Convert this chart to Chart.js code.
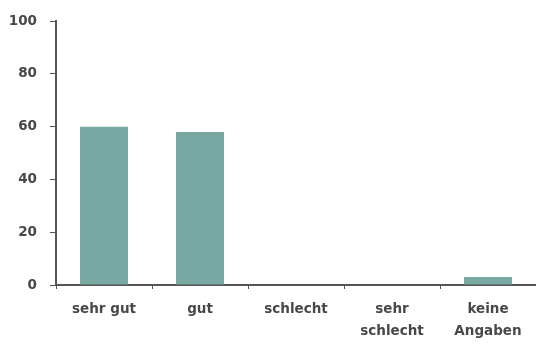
<!DOCTYPE html>
<html>
<head>
<meta charset="utf-8">
<script src="https://cdn.jsdelivr.net/npm/chart.js@4/dist/chart.umd.min.js"></script>
<style>
  html, body { margin: 0; padding: 0; background: #fff; }
  #wrap { width: 536px; height: 344px; position: relative; }
</style>
</head>
<body>
<div id="wrap"><canvas id="chart"></canvas></div>
<script>
// Kategorien und Werte
const CATEGORIES = [['sehr gut'], ['gut'], ['schlecht'], ['sehr', 'schlecht'], ['keine', 'Angaben']];
const VALUES = [60, 58, 0, 0, 3];
const Y_TICKS = [0, 20, 40, 60, 80, 100];

const BAR_COLOR = '#78a8a2';
const AXIS_COLOR = '#555555';
const TEXT_COLOR = '#484848';
const FONT = { family: "'DejaVu Sans', sans-serif", size: 13.5, weight: 'bold', lineHeight: 1.6 };

new Chart(document.getElementById('chart'), {
    type: 'bar',
    data: {
        labels: CATEGORIES,
        datasets: [{
            data: VALUES,
            backgroundColor: BAR_COLOR,
            borderWidth: 0,
            categoryPercentage: 1,
            barPercentage: 0.5
        }]
    },
    options: {
        responsive: true,
        maintainAspectRatio: false,
        animation: false,
        layout: { padding: { top: 20, right: 0, left: 0, bottom: 0 } },
        plugins: { legend: { display: false }, tooltip: { enabled: false } },
        scales: {
            x: {
                offset: true,
                grid: { offset: true, drawOnChartArea: false, color: AXIS_COLOR, tickLength: 4 },
                border: { color: AXIS_COLOR, width: 2 },
                ticks: { color: TEXT_COLOR, font: FONT, maxRotation: 0, padding: 10 },
                afterFit: s => { s.height = 59; }
            },
            y: {
                min: 0,
                max: 100,
                afterBuildTicks: s => { s.ticks = Y_TICKS.map(v => ({ value: v })); },
                grid: { drawOnChartArea: false, color: AXIS_COLOR, tickLength: 6 },
                border: { color: AXIS_COLOR, width: 2 },
                ticks: { color: TEXT_COLOR, font: { ...FONT, lineHeight: 1.2 }, padding: 13 },
                afterFit: s => { s.width = 56; }
            }
        }
    }
});
</script>
</body>
</html>
